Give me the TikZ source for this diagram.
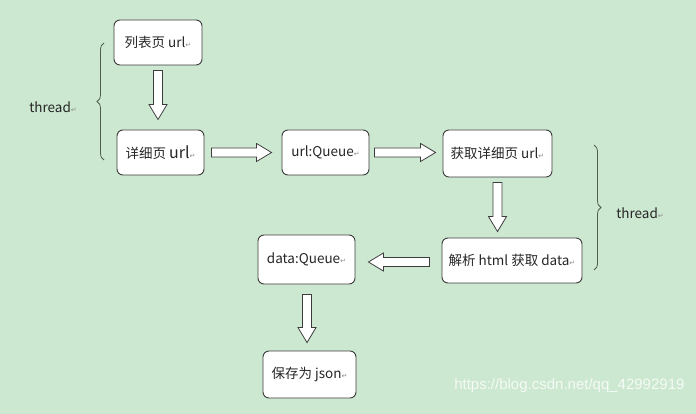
\documentclass[tikz,border=0pt]{standalone}
\usepackage{fontspec}
\setmainfont{Noto Sans CJK SC}
\newfontfamily\symfont{DejaVu Sans}
\newfontfamily\wmfont{Liberation Sans}
\usetikzlibrary{calc,decorations.pathreplacing}
\definecolor{bg}{HTML}{CCE8D0}
\definecolor{edge}{HTML}{3C3C3C}
\definecolor{bracecol}{HTML}{4E5E50}
\newcommand\parmk{{\symfont\fontsize{7}{7}\selectfont\textcolor{black!45}{↵}}}
\tikzset{
  box/.style={draw=edge, line width=0.9pt, fill=white, rounded corners=6pt, inner sep=0pt,
    font=\fontsize{13.5}{15}\selectfont, text=black!85},
  barrow/.style={draw=edge, line width=0.8pt, fill=white, to path={
    ($(\tikztostart)!4.5pt!90:(\tikztotarget)$)
    -- ($(\tikztotarget)!15pt!(\tikztostart)!4.5pt!-90:(\tikztostart)$)
    -- ($(\tikztotarget)!15pt!(\tikztostart)!9pt!-90:(\tikztostart)$)
    -- (\tikztotarget)
    -- ($(\tikztotarget)!15pt!(\tikztostart)!9pt!90:(\tikztostart)$)
    -- ($(\tikztotarget)!15pt!(\tikztostart)!4.5pt!90:(\tikztostart)$)
    -- ($(\tikztostart)!4.5pt!-90:(\tikztotarget)$) -- cycle}},
  brace/.style={draw=bracecol, line width=0.8pt, decorate, decoration={brace, amplitude=7pt}},
  lbl/.style={font=\fontsize{13.5}{15}\selectfont, text=black!85}
}
\begin{document}
\begin{tikzpicture}[x=1pt,y=-1pt]
\fill[bg] (0,0) rectangle (696,414);
\useasboundingbox (0,0) rectangle (696,414);

\node[box, minimum width=88pt, minimum height=45pt] (n1) at (158,42.5) {列表页 url\parmk};
\node[box, minimum width=87pt, minimum height=45pt] (n2) at (160.5,152.5) {详细页 {\fontsize{16}{16}\selectfont url}\parmk};
\node[box, minimum width=87pt, minimum height=45pt] (n3) at (325.5,152.5) {url:Queue\parmk};
\node[box, minimum width=109pt, minimum height=47pt] (n4) at (497.5,153.5) {获取详细页 url\parmk};
\node[box, minimum width=140pt, minimum height=45pt] (n5) at (512,260.5) {解析 html 获取 data\parmk};
\node[box, minimum width=97pt, minimum height=49pt] (n6) at (306.5,259.5) {data:Queue\parmk};
\node[box, minimum width=93pt, minimum height=47pt] (n7) at (309.5,374.5) {保存为 json\parmk};

\coordinate (a1s) at ($(n1.south)+(0,5)$);
\coordinate (a1e) at ($(n2.north)+(-2.5,-10)$);
\coordinate (a2s) at ($(n2.east)+(7,0)$);
\coordinate (a2e) at ($(n3.west)+(-10,0)$);
\coordinate (a3s) at ($(n3.east)+(5,0)$);
\coordinate (a3e) at ($(n4.west)+(-7,-1)$);
\coordinate (a4s) at ($(n4.south)+(0,5)$);
\coordinate (a4e) at ($(n4.south |- n5.north)+(0,-6)$);
\coordinate (a5s) at ($(n5.west)+(-12,1.5)$);
\coordinate (a5e) at ($(n6.east)+(13,2.5)$);
\coordinate (a6s) at ($(n6.south)+(0.5,10)$);
\coordinate (a6e) at ($(n7.north)+(-2.5,-8)$);
\coordinate (a1s') at (a1s -| a1e);
\coordinate (a3s') at (a3s |- a3e);
\coordinate (a6s') at (a6s -| a6e);

\draw[barrow] (a1s') to (a1e);
\draw[barrow] (a2s) to (a2e);
\draw[barrow] (a3s') to (a3e);
\draw[barrow] (a4s) to (a4e);
\draw[barrow] (a5s) to (a5e);
\draw[barrow] (a6s') to (a6e);

\coordinate (b1a) at (104,160);
\coordinate (b1b) at (104,43);
\draw[brace] (b1a) -- (b1b);
\node[lbl] (t1) at (53,107) {thread\parmk};
\coordinate (b2a) at (594,145);
\coordinate (b2b) at (594,270);
\draw[brace] (b2a) -- (b2b);
\node[lbl] (t2) at (640,213) {thread\parmk};

\node[font=\wmfont\fontsize{15}{15}\selectfont, text=white, opacity=0.8, anchor=east] (wm) at (688,386) {https://blog.csdn.net/qq\_42992919};
\end{tikzpicture}
\end{document}
